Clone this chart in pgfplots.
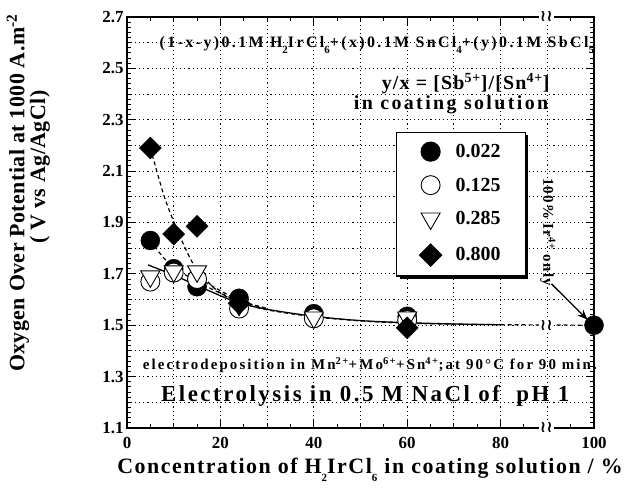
\documentclass[border=0pt]{standalone}
\usepackage{fontspec}
\setmainfont{Liberation Serif}
\newfontfamily\djv{DejaVu Sans}
\usepackage{pgfplots}
\pgfplotsset{compat=1.18}
\usetikzlibrary{calc,shadows,arrows.meta}
\newcommand{\sub}[1]{\raisebox{-0.8ex}{\fontsize{11}{11}\selectfont #1}}
\begin{document}
\begin{tikzpicture}
\begin{axis}[
  scale only axis, width=467bp, height=411bp,
  xmin=0, xmax=100, ymin=1.1, ymax=2.7,
  clip=false,
  xtick={0,20,40,60,80,100},
  ytick={1.1,1.3,1.5,1.7,1.9,2.1,2.3,2.5,2.7},
  minor x tick num=3, minor y tick num=9,
  extra x ticks={10,30,50,70,90}, extra x tick labels={},
  extra y ticks={1.2,1.4,1.6,1.8,2.0,2.2,2.4,2.6}, extra y tick labels={},
  extra tick style={grid=major, major tick length=4bp},
  grid=major,
  grid style={black, line width=0.9pt, dash pattern=on 1.1bp off 3bp},
  axis line style={line width=1.8pt},
  tick style={black, line width=1pt},
  major tick length=8bp, minor tick length=4bp,
  tick label style={font=\fontsize{17}{17}\selectfont\bfseries},
  /pgf/number format/assume math mode=true,
  yticklabel style={/pgf/number format/.cd, fixed, precision=1, zerofill},
  xticklabel style={yshift=-6bp},
  legend style={at={(axis cs:57.6,2.254)}, anchor=north west, draw=black, line width=1.2pt,
    fill=white, font=\fontsize{20}{20}\selectfont\bfseries,
    inner xsep=23bp, inner ysep=10bp, row sep=14.5bp,
    drop shadow={opacity=1, fill=black, shadow xshift=3bp, shadow yshift=-3bp}},
  legend cell align=left,
]
% 0.022 filled circle
\addplot[only marks, mark=*, mark size=9.5bp, mark options={fill=black, draw=black}]
  coordinates {(5,1.83) (10,1.72) (15,1.65) (24,1.605) (40,1.545) (60,1.535) (100,1.50)};
\addlegendentry{\hspace{12bp}0.022\hspace{-17bp}}
% 0.125 open circle
\addplot[only marks, mark=*, mark size=9.5bp, mark options={fill=white, draw=black, line width=0.9pt}]
  coordinates {(5,1.67) (10,1.705) (15,1.68) (24,1.565) (40,1.527) (60,1.52)};
\addlegendentry{\hspace{12bp}0.125\hspace{-17bp}}
% 0.285 triangle down
\addplot[only marks, mark=triangle*, mark size=11bp, mark options={fill=white, draw=black, rotate=180, line width=0.9pt}]
  coordinates {(5,1.69) (10,1.71) (15,1.71) (24,1.58) (40,1.53) (60,1.53)};
\addlegendentry{\hspace{12bp}0.285\hspace{-17bp}}
% 0.800 diamond
\addplot[only marks, mark=square*, mark size=7.8bp, mark options={fill=black, draw=black, rotate=45}]
  coordinates {(5,2.19) (10,1.855) (15,1.885) (24,1.585) (60,1.49)};
\addlegendentry{\hspace{12bp}0.800\hspace{-17bp}}
% fitted curves
\addplot[forget plot, black, line width=1.3pt, smooth]
  coordinates {(4.5,1.735) (10,1.695) (15,1.655) (20,1.615) (24,1.587) (30,1.562) (40,1.535) (50,1.518) (60,1.51) (70,1.505) (80,1.502)};
\addplot[forget plot, black, line width=1.2pt, dash pattern=on 4bp off 3bp, smooth]
  coordinates {(5,2.19) (8,2.0) (11,1.86) (14,1.745) (17,1.675) (20,1.625) (24,1.59) (30,1.56) (40,1.533) (50,1.517) (60,1.508) (75,1.503) (100,1.50)};
\addplot[forget plot, black, line width=1.2pt, dash pattern=on 4bp off 3bp, smooth]
  coordinates {(5,1.83) (7.5,1.77) (10,1.725) (15,1.67) (20,1.625) (24,1.595) (30,1.565)};
\addplot[forget plot, black, line width=1.2pt, dash pattern=on 4bp off 3bp, smooth]
  coordinates {(14,1.695) (18,1.655) (22,1.615) (26,1.585) (30,1.565)};
% breaks
\node[fill=white, inner xsep=1bp, inner ysep=0bp, font=\djv\bfseries\fontsize{16}{16}\selectfont] at (axis cs:89.8,2.7) {≀\kern0.5bp≀};
\node[fill=white, inner xsep=1bp, inner ysep=0bp, font=\djv\bfseries\fontsize{16}{16}\selectfont] at (axis cs:89.8,1.1) {≀\kern0.5bp≀};
\node[fill=white, inner xsep=1bp, inner ysep=0bp, font=\djv\bfseries\fontsize{16}{16}\selectfont] at (axis cs:89.8,1.5) {≀\kern0.5bp≀};
% annotations
\node[font=\fontsize{16}{16}\selectfont\bfseries\addfontfeature{LetterSpace=15}] at (axis cs:53.5,2.59)
  {(1-x-y)0.1M H\sub{2}IrCl\sub{6}+(x)0.1M SnCl\sub{4}+(y)0.1M SbCl\sub{5}};
\node[font=\fontsize{20}{20}\selectfont\bfseries\addfontfeature{LetterSpace=6}] at (axis cs:72.5,2.44)
  {y/x = [Sb\textsuperscript{5+}]/[Sn\textsuperscript{4+}]};
\node[font=\fontsize{20}{20}\selectfont\bfseries\addfontfeature{LetterSpace=12}] at (axis cs:69.4,2.359)
  {in coating solution};
\node[font=\fontsize{15}{15}\selectfont\bfseries\addfontfeature{LetterSpace=14}] at (axis cs:52,1.345)
  {electrodeposition in Mn\textsuperscript{2+}+Mo\textsuperscript{6+}+Sn\textsuperscript{4+};at 90°C for 90 min.};
\node[font=\fontsize{23}{23}\selectfont\bfseries\addfontfeature{LetterSpace=11}] at (axis cs:51,1.225)
  {Electrolysis in 0.5 M NaCl of \ pH 1};
\node[rotate=-90, font=\fontsize{15}{15}\selectfont\bfseries\addfontfeature{LetterSpace=8}] at (axis cs:90.1,1.863)
  {100\% Ir\textsuperscript{4+} only};
\draw[-{Stealth[length=10bp,width=8bp]}, line width=1.3pt] (axis cs:90.9,1.661) -- (axis cs:98.6,1.522);
% axis labels
\node[rotate=90, font=\fontsize{22}{22}\selectfont\bfseries\addfontfeature{LetterSpace=2}] at ($(rel axis cs:0,0)+(-109bp,235bp)$)
  {Oxygen Over Potential at 1000 A.m\textsuperscript{-2}};
\node[rotate=90, font=\fontsize{22}{22}\selectfont\bfseries\addfontfeature{LetterSpace=2}] at ($(rel axis cs:0,0)+(-87bp,261bp)$)
  {( V vs Ag/AgCl)};
\node[font=\fontsize{22}{22}\selectfont\bfseries\addfontfeature{LetterSpace=7}] at ($(rel axis cs:0,0)+(243bp,-42bp)$)
  {Concentration of H\sub{2}IrCl\sub{6} in coating solution / \%};
\end{axis}
\pgfresetboundingbox
\path ($(current axis.south west)+(-127bp,-63bp)$) rectangle ($(current axis.north east)+(32bp,17bp)$);
\end{tikzpicture}
\end{document}
